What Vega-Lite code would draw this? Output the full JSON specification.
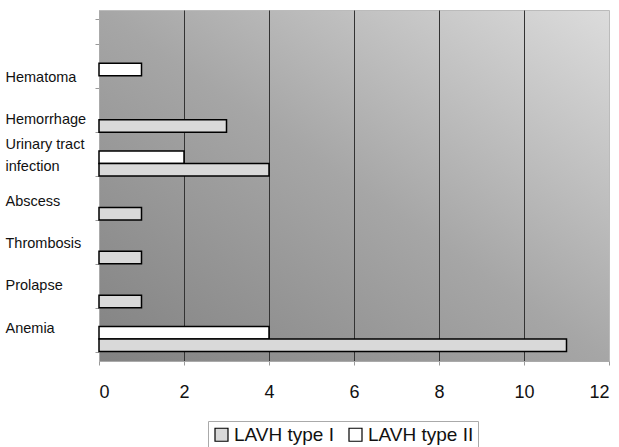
{
  "$schema": "https://vega.github.io/schema/vega-lite/v6.json",
  "width": 510,
  "height": 351,
  "autosize": {"type": "none"},
  "padding": {"left": 99, "top": 10, "right": 10, "bottom": 86},
  "background": "white",
  "config": {
    "font": "Liberation Sans",
    "view": {
      "stroke": "#bbbbbb",
      "fill": {
        "gradient": "linear",
        "x1": 0, "y1": 1, "x2": 1, "y2": 0,
        "stops": [
          {"offset": 0, "color": "#828282"},
          {"offset": 0.5, "color": "#a6a6a6"},
          {"offset": 1, "color": "#dcdcdc"}
        ]
      }
    }
  },
  "data": {
    "values": [
      {"complication": "Hematoma", "group": "LAVH type II", "count": 1},
      {"complication": "Hemorrhage", "group": "LAVH type I", "count": 3},
      {"complication": "Urinary tract infection", "group": "LAVH type II", "count": 2},
      {"complication": "Urinary tract infection", "group": "LAVH type I", "count": 4},
      {"complication": "Abscess", "group": "LAVH type I", "count": 1},
      {"complication": "Thrombosis", "group": "LAVH type I", "count": 1},
      {"complication": "Prolapse", "group": "LAVH type I", "count": 1},
      {"complication": "Anemia", "group": "LAVH type II", "count": 4},
      {"complication": "Anemia", "group": "LAVH type I", "count": 11}
    ]
  },
  "mark": {"type": "bar", "stroke": "black", "strokeWidth": 1.5},
  "encoding": {
    "y": {
      "field": "complication",
      "type": "nominal",
      "scale": {
        "domain": [" ", "Hematoma", "Hemorrhage", "Urinary tract infection", "Abscess", "Thrombosis", "Prolapse", "Anemia"],
        "paddingInner": 0.43,
        "paddingOuter": 0.215
      },
      "axis": {
        "title": null,
        "labelAlign": "left",
        "labelPadding": 90,
        "labelFontSize": 14.5,
        "labelColor": "#111",
        "labelOffset": {
          "condition": [
            {"test": "datum.value == 'Urinary tract infection'", "value": -19},
            {"test": "datum.value == 'Hematoma'", "value": 2},
            {"test": "datum.value == 'Abscess'", "value": -6},
            {"test": "datum.value == 'Thrombosis'", "value": -8},
            {"test": "datum.value == 'Prolapse'", "value": -10},
            {"test": "datum.value == 'Anemia'", "value": -11}
          ],
          "value": 0
        },
        "labelExpr": "datum.value == 'Urinary tract infection' ? ['Urinary tract', 'infection'] : datum.label",
        "labelLineHeight": 22,
        "tickBand": "extent",
        "tickSize": 4,
        "tickColor": "#999",
        "domainColor": "#aaa",
        "grid": false
      }
    },
    "yOffset": {
      "field": "group",
      "type": "nominal",
      "scale": {"domain": ["LAVH type II", "LAVH type I"], "paddingInner": 0}
    },
    "x": {
      "field": "count",
      "type": "quantitative",
      "scale": {"domain": [0, 12], "nice": false},
      "axis": {
        "title": null,
        "values": [0, 2, 4, 6, 8, 10, 12],
        "labelFontSize": 18,
        "labelColor": "#111",
        "labelPadding": 18,
        "tickSize": 4,
        "tickColor": "#999",
        "domainColor": "#aaa",
        "grid": true,
        "gridColor": {"condition": {"test": "datum.value == 0 || datum.value == 12", "value": null}, "value": "#333333"},
        "gridWidth": 1
      }
    },
    "fill": {
      "field": "group",
      "type": "nominal",
      "scale": {"domain": ["LAVH type I", "LAVH type II"], "range": ["#d9d9d9", "#ffffff"]},
      "legend": {
        "title": null,
        "orient": "none",
        "direction": "horizontal",
        "legendX": 109,
        "legendY": 411,
        "symbolType": "square",
        "symbolSize": 169,
        "symbolStrokeColor": "black",
        "symbolStrokeWidth": 1.2,
        "labelFontSize": 19,
        "labelColor": "#111",
        "labelOffset": 3,
        "columnPadding": 12,
        "strokeColor": "#aaaaaa",
        "fillColor": "white",
        "padding": 4
      }
    }
  }
}
